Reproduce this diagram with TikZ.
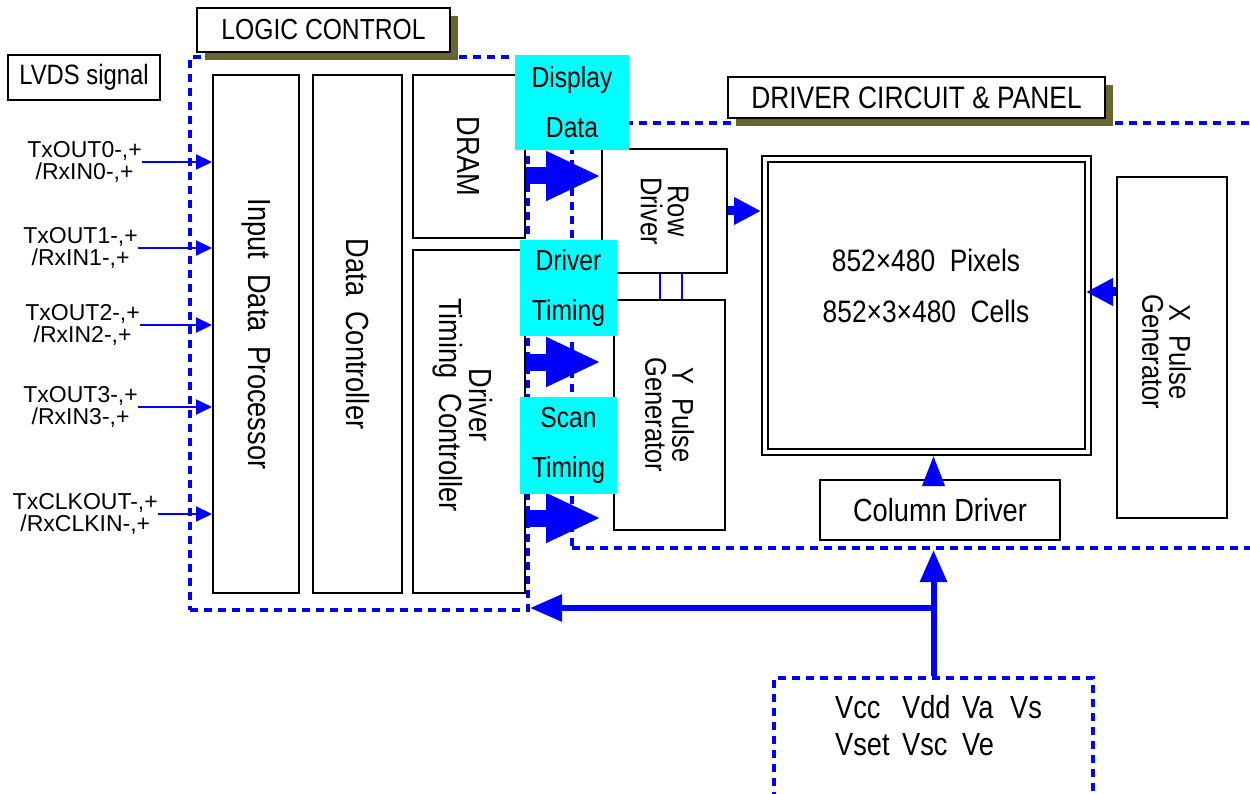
\documentclass[tikz,border=0pt]{standalone}
\usepackage{fontspec}
\setmainfont{Liberation Sans}[FakeStretch=0.85]
\newfontfamily\labfont{Liberation Sans}
\usetikzlibrary{arrows.meta,shadows}
\definecolor{lblue}{RGB}{0,0,255}
\definecolor{shad}{RGB}{102,102,51}
\definecolor{cyanbox}{RGB}{0,255,255}
\newcommand{\fs}[2]{\fontsize{#1}{#2}\selectfont}
\begin{document}
\begin{tikzpicture}[x=1pt,y=-1pt,
 box/.style={draw=black, line width=2pt, fill=white, inner sep=0pt},
 region/.style={draw=lblue, line width=4pt, dash pattern=on 8pt off 6pt, inner sep=0pt},
 tag/.style={box, drop shadow={shadow xshift=8pt, shadow yshift=-8pt, fill=shad, opacity=1}},
 cbox/.style={fill=cyanbox, inner sep=0pt, align=center, font=\fs{29}{50}},
 rtxt/.style={rotate=-90, align=center, font=\fs{32}{30}},
 lab/.style={align=center, font=\labfont\fs{23}{22}, anchor=east, inner sep=0pt},
 pv/.style={anchor=base west, inner sep=0pt, font=\fs{32}{32}},
 inarr/.style={draw=lblue, line width=2pt, -{Triangle[length=16pt,width=15pt]}},
 fat/.style={draw=lblue, line width=17pt, -{Triangle[length=55pt,width=46pt]}},
 med/.style={draw=lblue, line width=9pt, -{Triangle[length=27pt,width=26pt]}},
 colarr/.style={draw=lblue, line width=4pt, -{Triangle[length=30pt,width=22pt]}},
 pow/.style={draw=lblue, line width=6pt, -{Triangle[length=32pt,width=26pt]}},
 thinb/.style={draw=lblue, line width=1.5pt},
]
\clip (0,0) rectangle (1250,794);
\fill[white] (0,0) rectangle (1250,794);

% dashed regions
\node[region, minimum width=338, minimum height=553] (LC) at (359,333.5) {};
\node[region, minimum width=700, minimum height=425] (DR) at (922,335.5) {};
\node[region, minimum width=319, minimum height=130] (PB) at (933.5,743) {};

% titles
\node[box, minimum width=152, minimum height=45, font=\fs{28}{30}] (LVDS) at (84,77.5) {LVDS signal};
\node[tag, minimum width=253, minimum height=44, font=\fs{29}{30}] (LCT) at (323.5,30) {LOGIC CONTROL};
\node[tag, minimum width=377, minimum height=41, font=\fs{31}{30}] (DRT) at (916.5,97.5) {DRIVER CIRCUIT \& PANEL};

% logic blocks
\node[box, minimum width=86, minimum height=518] (IDP) at (256,334) {};
\node[rtxt] (IDPt) at (IDP) {Input\ \ Data\ \ Processor};
\node[box, minimum width=89, minimum height=518] (DC) at (357.5,334) {};
\node[rtxt] (DCt) at (DC) {Data\ \ Controller};
\node[box, minimum width=112, minimum height=163] (DRAM) at (469,156.5) {};
\node[rtxt] (DRAMt) at (DRAM) {DRAM};
\node[box, minimum width=112, minimum height=343] (DTC) at (469,421.5) {};
\node[rtxt, font=\fs{32}{30}] (DTCt) at (463,405) {Driver\\Timing\ \ Controller};

% driver blocks
\node[box, minimum width=125, minimum height=124] (RD) at (664.5,211) {};
\node[rtxt, font=\fs{30}{27}] (RDt) at (RD) {Row\\Driver};
\node[box, minimum width=111, minimum height=230] (YP) at (669.5,415) {};
\node[rtxt, font=\fs{30}{27}] (YPt) at (YP) {Y\ \ Pulse\\Generator};
\node[box, minimum width=329, minimum height=299] (PN) at (926.5,305.5) {};
\node[box, fill=none, minimum width=317, minimum height=287] (PNi) at (PN) {};
\node[font=\fs{31}{51}, align=center] (PNt) at (926,285.5) {852×480\ \ Pixels\\852×3×480\ \ Cells};
\node[box, minimum width=110, minimum height=341] (XP) at (1172,347.5) {};
\node[rtxt, font=\fs{30}{27}] (XPt) at (1166.5,352) {X\ \ Pulse\\Generator};
\node[box, minimum width=240, minimum height=60, font=\fs{32}{30}] (CD) at (940,510) {Column Driver};

\draw[thinb] ([xshift=-4.5pt]RD.south) -- ([xshift=-4.5pt]RD.south |- YP.north);
\draw[thinb] ([xshift=17.5pt]RD.south) -- ([xshift=17.5pt]RD.south |- YP.north);

% power
\node[pv] (v1) at (835,718) {Vcc};
\node[pv] (v2) at (902,718) {Vdd};
\node[pv] (v3) at (962,718) {Va};
\node[pv] (v4) at (1010,718) {Vs};
\node[pv] (v5) at (835,755) {Vset};
\node[pv] (v6) at (902,755) {Vsc};
\node[pv] (v7) at (962,755) {Ve};

% fat arrows
\draw[fat] (DRAM.east |- 0,176) -- (RD.west |- 0,176);
\draw[fat] (DTC.east |- 0,362) -- (RD.west |- 0,362);
\draw[fat] (DTC.east |- 0,518) -- (RD.west |- 0,518);

% cyan labels
\node[cbox, minimum width=114, minimum height=95] (DD) at (572,102.5) {Display\\Data};
\node[cbox, minimum width=97, minimum height=96] (DT) at (568.5,288) {Driver\\Timing};
\node[cbox, minimum width=97, minimum height=97] (ST) at (568.5,445.5) {Scan\\Timing};

% panel arrows
\draw[med] (RD.east) -- (RD.east -| PN.west);
\draw[med] (XP.west |- 0,292) -- (PNi.east |- 0,292);
\draw[colarr] (CD.north -| PB.north) -- (PN.south -| PB.north);
\draw[pow] (PB.north) -- (PB.north |- DR.south);
\coordinate (J) at (PB.north |- 0,608);
\draw[pow] (J) -- (J -| LC.east);

% inputs
\node[lab] (L0) at (142,162) {TxOUT0-,+\\/RxIN0-,+};
\node[lab] (L1) at (138,248) {TxOUT1-,+\\/RxIN1-,+};
\node[lab] (L2) at (140,325) {TxOUT2-,+\\/RxIN2-,+};
\node[lab] (L3) at (138,407) {TxOUT3-,+\\/RxIN3-,+};
\node[lab] (L4) at (158,514) {TxCLKOUT-,+\\/RxCLKIN-,+};
\foreach \n in {L0,L1,L2,L3,L4}
  \draw[inarr] (\n.east) -- (\n.east -| IDP.west);
\end{tikzpicture}
\end{document}
